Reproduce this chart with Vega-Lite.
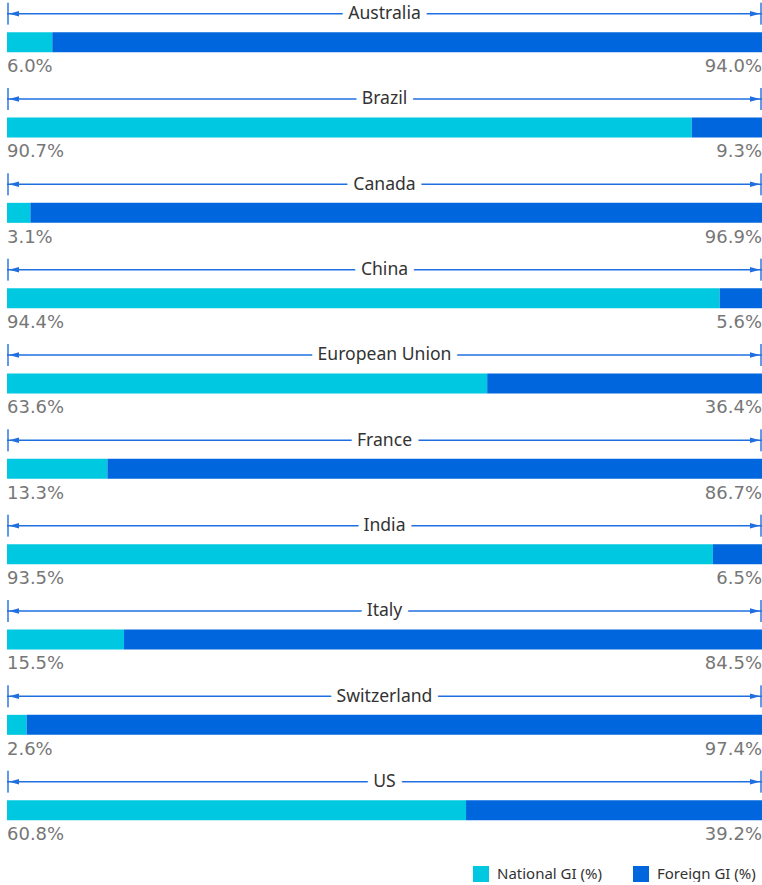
{
  "$schema": "https://vega.github.io/schema/vega-lite/v6.json",
  "width": 755,
  "height": 853.33,
  "padding": {"left": 6, "top": 0, "right": 1, "bottom": 0},
  "background": "white",
  "config": {"view": {"stroke": null}},
  "data": {
    "values": [
      {"country": "Australia", "national": 0.060, "foreign": 0.940},
      {"country": "Brazil", "national": 0.907, "foreign": 0.093},
      {"country": "Canada", "national": 0.031, "foreign": 0.969},
      {"country": "China", "national": 0.944, "foreign": 0.056},
      {"country": "European Union", "national": 0.636, "foreign": 0.364},
      {"country": "France", "national": 0.133, "foreign": 0.867},
      {"country": "India", "national": 0.935, "foreign": 0.065},
      {"country": "Italy", "national": 0.155, "foreign": 0.845},
      {"country": "Switzerland", "national": 0.026, "foreign": 0.974},
      {"country": "US", "national": 0.608, "foreign": 0.392}
    ]
  },
  "encoding": {
    "y": {"field": "country", "type": "nominal", "sort": null, "scale": {"type": "point", "padding": 0.5}, "axis": null}
  },
  "layer": [
    {
      "transform": [{"fold": ["national", "foreign"], "as": ["series", "share"]}],
      "mark": {"type": "bar", "height": 20, "yOffset": -0.5},
      "encoding": {
        "x": {"field": "share", "type": "quantitative", "stack": "zero", "scale": {"domain": [0, 1], "nice": false, "zero": true}, "axis": null},
        "order": {"field": "series", "sort": "descending"},
        "color": {
          "field": "series", "type": "nominal",
          "scale": {"domain": ["national", "foreign"], "range": ["#00C8E0", "#0066DD"]},
          "legend": {
            "title": null, "orient": "none", "legendX": 466, "legendY": 866, "direction": "horizontal",
            "columns": 2, "symbolType": "square", "symbolSize": 256, "symbolStrokeWidth": 0,
            "labelFont": "Noto Sans", "labelFontSize": 15, "labelColor": "#333333", "labelOffset": 8,
            "columnPadding": 30, "padding": 0,
            "labelExpr": "datum.value == 'national' ? 'National GI (%)' : 'Foreign GI (%)'"
          }
        }
      }
    },
    {
      "mark": {"type": "rule", "color": "#1F6FE0", "strokeWidth": 1.5, "yOffset": -29},
      "encoding": {"x": {"datum": 0}, "x2": {"datum": 1}}
    },
    {
      "mark": {"type": "tick", "color": "#1F6FE0", "thickness": 2, "size": 22, "orient": "vertical", "yOffset": -29, "xOffset": 1},
      "encoding": {"x": {"datum": 0}}
    },
    {
      "mark": {"type": "tick", "color": "#1F6FE0", "thickness": 2, "size": 22, "orient": "vertical", "yOffset": -29, "xOffset": -1},
      "encoding": {"x": {"datum": 1}}
    },
    {
      "mark": {"type": "point", "shape": "M-1,0L1,-0.55L1,0.55Z", "size": 100, "filled": true, "opacity": 1, "color": "#1F6FE0", "yOffset": -29, "xOffset": 7},
      "encoding": {"x": {"datum": 0}}
    },
    {
      "mark": {"type": "point", "shape": "M1,0L-1,-0.55L-1,0.55Z", "size": 100, "filled": true, "opacity": 1, "color": "#1F6FE0", "yOffset": -29, "xOffset": -7},
      "encoding": {"x": {"datum": 1}}
    },
    {
      "mark": {"type": "text", "font": "Noto Sans", "fontSize": 17.6, "baseline": "alphabetic", "align": "center", "dy": -23.5, "stroke": "white", "strokeWidth": 14, "strokeJoin": "round", "fill": "white"},
      "encoding": {"x": {"datum": 0.5}, "text": {"field": "country"}}
    },
    {
      "mark": {"type": "text", "font": "Noto Sans", "fontSize": 17.6, "baseline": "alphabetic", "align": "center", "dy": -23.5, "color": "#333333"},
      "encoding": {"x": {"datum": 0.5}, "text": {"field": "country"}}
    },
    {
      "mark": {"type": "text", "font": "DejaVu Sans", "fontSize": 18, "baseline": "alphabetic", "align": "left", "dy": 29.5, "color": "#777777"},
      "encoding": {"x": {"datum": 0}, "text": {"field": "national", "type": "quantitative", "format": ".1%"}}
    },
    {
      "mark": {"type": "text", "font": "DejaVu Sans", "fontSize": 18, "baseline": "alphabetic", "align": "right", "dy": 29.5, "color": "#777777"},
      "encoding": {"x": {"datum": 1}, "text": {"field": "foreign", "type": "quantitative", "format": ".1%"}}
    }
  ]
}
